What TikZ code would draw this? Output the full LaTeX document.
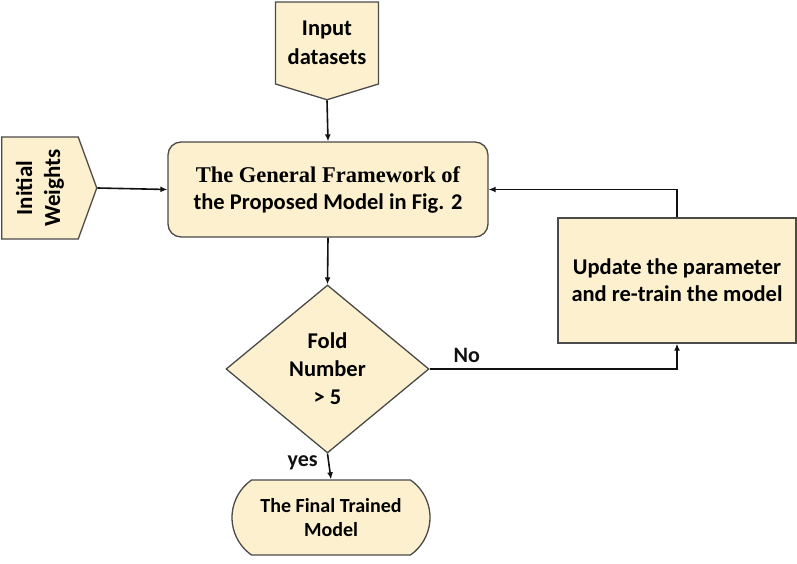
\documentclass[tikz,border=0pt]{standalone}
\usepackage{fontspec}
\usepackage{tikz}
\usetikzlibrary{shapes.geometric,shapes.symbols,shapes.misc,arrows.meta}
\setmainfont{Carlito}
\newfontfamily\timesfont{Liberation Serif}
\definecolor{crema}{HTML}{FCF0CE}
\definecolor{bordo}{HTML}{4A4A4A}
\definecolor{dark}{HTML}{111111}

\tikzset{
  blocco/.style={draw=bordo, fill=crema, line width=1.3pt, align=center,
    inner sep=0pt, font=\bfseries\fontsize{22.5}{27}\selectfont},
  freccia/.style={draw=dark, line width=1.6pt, -{Latex[length=7pt,width=6pt]}},
  etichetta/.style={font=\bfseries\fontsize{22}{26}\selectfont, color=dark}
}

\begin{document}
\begin{tikzpicture}[x=1pt,y=-1pt]
  \useasboundingbox (0,0) rectangle (797,564);

  % Blocchi di ingresso
  \node[blocco, shape=signal, signal to=south, signal from=nowhere,
        signal pointer angle=146, minimum width=103pt, minimum height=94pt,
        font=\bfseries\fontsize{22.5}{29}\selectfont]
        (inp) at (327,43) {Input\\datasets};
  \node[blocco, shape=signal, signal to=east, signal from=nowhere,
        signal pointer angle=140, minimum width=95pt, minimum height=102pt]
        (wts) at (40,188) {\rotatebox{90}{\parbox{90pt}{\centering
        \fontsize{23}{28}\selectfont Initial\\Weights}}};

  % Blocco centrale
  \node[blocco, rounded corners=13pt, minimum width=320pt, minimum height=95pt]
        (gen) at (328,189.5)
        {{\timesfont The General Framework of}\\the Proposed Model in Fig. 2};

  % Decisione
  \node[blocco, diamond, minimum width=203pt, minimum height=168pt,
        font=\bfseries\fontsize{22.5}{28}\selectfont]
        (fold) at (327.5,369) {Fold\\Number\\> 5};

  % Aggiornamento
  \node[blocco, minimum width=238pt, minimum height=125pt]
        (upd) at (677,280.5) {Update the parameter\\and re-train the model};

  % Modello finale
  \node[blocco, rounded rectangle, rounded rectangle arc length=110,
        minimum width=198pt, minimum height=75pt,
        font=\bfseries\fontsize{20}{24}\selectfont]
        (fin) at (331,517.5) {The Final Trained\\Model};

  % Frecce
  \draw[freccia] (inp.south) -- (gen.north);
  \draw[freccia] (wts.east) -- (gen.west);
  \draw[freccia] (gen.south) -- (fold.north);
  \draw[freccia] (fold.south) -- (fin.north)
        node[etichetta, pos=0.35, left, xshift=-7pt] {yes};
  \draw[freccia] (fold.east) -| (upd.south)
        node[etichetta, pos=0.075, above, yshift=2pt] {No};
  \draw[freccia] (upd.north) |- (gen.east);
\end{tikzpicture}
\end{document}
